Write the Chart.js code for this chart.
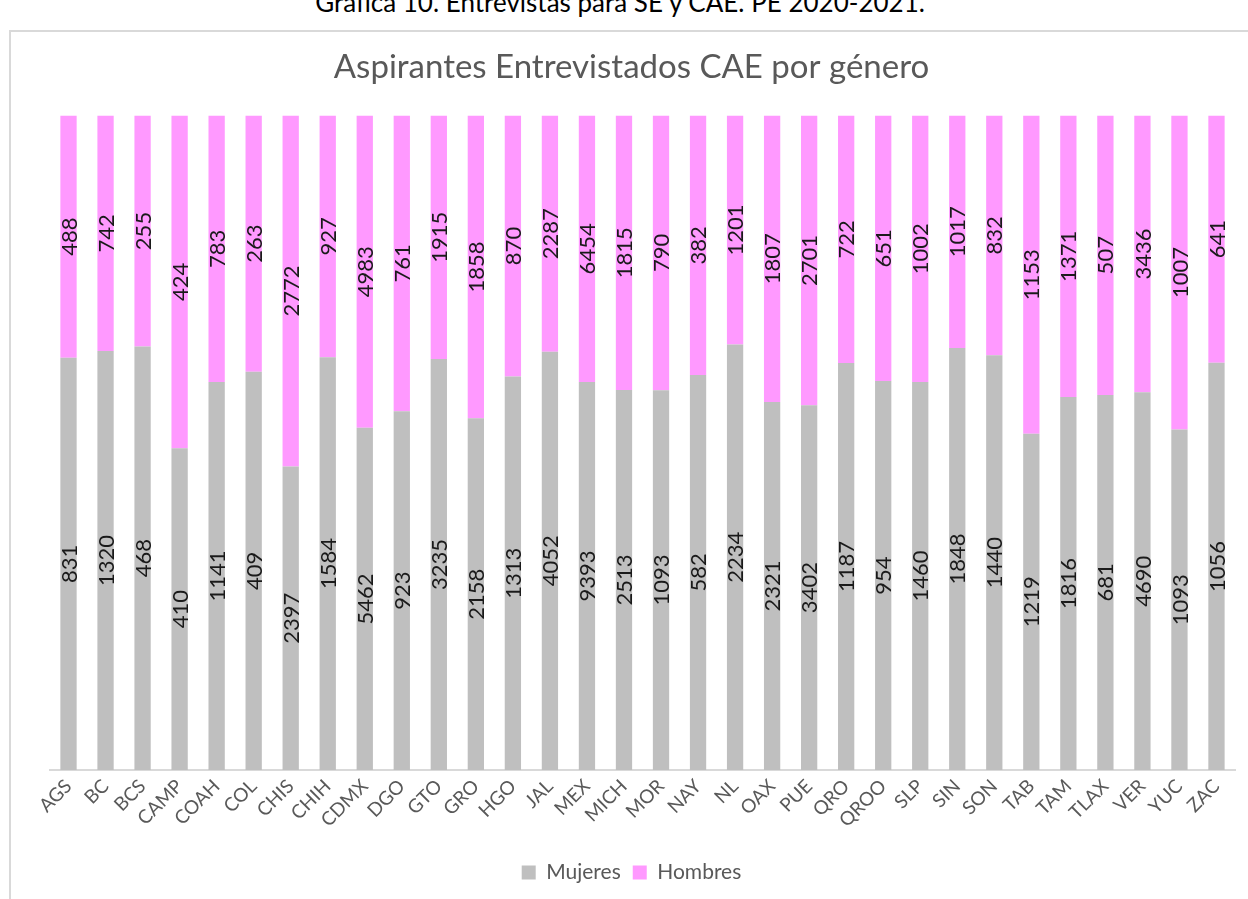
<!DOCTYPE html>
<html>
<head>
<meta charset="utf-8">
<script src="https://cdn.jsdelivr.net/npm/chart.js@4.4.1/dist/chart.umd.min.js"></script>
<style>
  html, body { margin: 0; padding: 0; background: #fff; }
  body { width: 1248px; height: 899px; position: relative; overflow: hidden; font-family: Lato, sans-serif; }
  #caption { position: absolute; left: -4px; width: 1248px; top: -11px; text-align: center; font-size: 26px; line-height: 26px; color: #000; }
  #frame { position: absolute; left: 9px; top: 30px; width: 1260px; height: 900px; border-left: 2px solid #d9d9d9; border-top: 2px solid #d9d9d9; }
  #wrap { position: absolute; left: 0; top: 0; width: 1248px; height: 899px; }
</style>
</head>
<body>
<div id="caption">Gráfica 10. Entrevistas para SE y CAE. PE 2020-2021.</div>
<div id="frame"></div>
<div id="wrap"><canvas id="grafica"></canvas></div>
<script>
// Estados
var estados = ['AGS', 'BC', 'BCS', 'CAMP', 'COAH', 'COL', 'CHIS', 'CHIH', 'CDMX', 'DGO', 'GTO', 'GRO', 'HGO', 'JAL', 'MEX', 'MICH',
    'MOR', 'NAY', 'NL', 'OAX', 'PUE', 'QRO', 'QROO', 'SLP', 'SIN', 'SON', 'TAB', 'TAM', 'TLAX', 'VER', 'YUC', 'ZAC'];

// Entrevistados por genero
var mujeres = [831, 1320, 468, 410, 1141, 409, 2397, 1584, 5462, 923, 3235, 2158, 1313, 4052, 9393, 2513,
    1093, 582, 2234, 2321, 3402, 1187, 954, 1460, 1848, 1440, 1219, 1816, 681, 4690, 1093, 1056];
var hombres = [488, 742, 255, 424, 783, 263, 2772, 927, 4983, 761, 1915, 1858, 870, 2287, 6454, 1815,
    790, 382, 1201, 1807, 2701, 722, 651, 1002, 1017, 832, 1153, 1371, 507, 3436, 1007, 641];

var colorMujeres = '#BFBFBF';
var colorHombres = '#FF99FF';

// porcentajes para la grafica 100% apilada
var pctMujeres = mujeres.map(function (m, i) { return m / (m + hombres[i]) * 100; });
var pctHombres = hombres.map(function (h, i) { return h / (mujeres[i] + h) * 100; });

// etiquetas con el valor original, giradas
var etiquetasPlugin = {
    id: 'etiquetas',
    afterLayout: function (chart) {
        // centrar titulo y leyenda sobre el marco, no sobre el area de datos
        var dx = -11;
        [chart.titleBlock, chart.legend].forEach(function (b) {
            if (b) { b.left += dx; b.right += dx; }
        });
    },
    afterDatasetsDraw: function (chart) {
        var ctx = chart.ctx;
        var crudos = [mujeres, hombres];
        ctx.save();
        ctx.font = '22px Lato, sans-serif';
        ctx.fillStyle = '#1a1a1a';
        ctx.textAlign = 'center';
        ctx.textBaseline = 'middle';
        chart.data.datasets.forEach(function (ds, d) {
            var meta = chart.getDatasetMeta(d);
            meta.data.forEach(function (bar, i) {
                var cy = (bar.y + bar.base) / 2;
                ctx.save();
                ctx.translate(bar.x, cy);
                ctx.rotate(-Math.PI / 2);
                ctx.fillText(String(crudos[d][i]), 0, 1);
                ctx.restore();
            });
        });
        ctx.restore();
    }
};

var ctx = document.getElementById('grafica').getContext('2d');
var myChart = new Chart(ctx, {
    type: 'bar',
    data: {
        labels: estados,
        datasets: [{
            label: 'Mujeres',
            data: pctMujeres,
            backgroundColor: colorMujeres,
            barPercentage: 0.44,
            categoryPercentage: 1
        }, {
            label: 'Hombres',
            data: pctHombres,
            backgroundColor: colorHombres,
            barPercentage: 0.44,
            categoryPercentage: 1
        }]
    },
    options: {
        responsive: true,
        maintainAspectRatio: false,
        animation: false,
        layout: {
            padding: { left: 50, right: 13, top: 48, bottom: 6 }
        },
        scales: {
            x: {
                stacked: true,
                grid: { display: false, drawTicks: false },
                border: { color: '#d9d9d9', width: 2 },
                ticks: {
                    color: '#595959',
                    font: { family: 'Lato', size: 19 },
                    minRotation: 45,
                    maxRotation: 45,
                    padding: 5,
                    autoSkip: false
                },
                afterFit: function (scale) {
                    scale.height = 80;
                }
            },
            y: {
                stacked: true,
                display: false,
                min: 0,
                max: 100
            }
        },
        plugins: {
            title: {
                display: true,
                text: 'Aspirantes Entrevistados CAE por género',
                color: '#595959',
                font: { family: 'Lato', size: 33, weight: 'normal' },
                padding: { top: 0, bottom: 28 }
            },
            legend: {
                position: 'bottom',
                labels: {
                    color: '#595959',
                    font: { family: 'Lato', size: 21 },
                    boxWidth: 14,
                    boxHeight: 14,
                    padding: 12
                }
            },
            tooltip: { enabled: false }
        }
    },
    plugins: [etiquetasPlugin]
});
</script>
</body>
</html>
